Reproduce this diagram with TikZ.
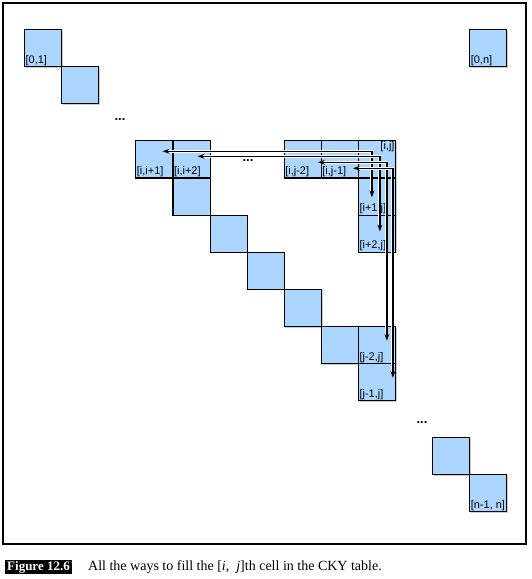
\documentclass[tikz,border=0pt]{standalone}
\usepackage{fontspec}
\setmainfont{Liberation Serif}
\setsansfont{Liberation Sans}
\usepackage{tikz}
\usetikzlibrary{arrows.meta,positioning,calc,shadows}
\definecolor{cellblue}{RGB}{170,214,255}
\tikzset{
  %% Chart cells
  cell/.style={draw=black, line width=1.1pt, fill=cellblue,
    minimum size=37.1pt, inner sep=0pt, anchor=north west,
    drop shadow={shadow xshift=1.2pt, shadow yshift=-1.2pt, opacity=0.4}},
  celltxt/.style={font=\sffamily\fontsize{11}{12}\selectfont, inner sep=1.4pt},
  bl/.style={label={[celltxt, anchor=south west]south west:{#1}}},
  tr/.style={label={[celltxt, anchor=north east]north east:{#1}}},
  %% Ellipses
  cdots/.style={font=\sffamily\bfseries\fontsize{13}{14}\selectfont, inner sep=0pt},
  %% Ways to fill [i,j]
  link/.style={<->, >={Stealth[length=7pt, width=5pt]}, line width=1.3pt,
    preaction={draw=white, line width=3pt}},
  %% Caption
  figtag/.style={fill=black, text=white, font=\bfseries\fontsize{13}{15}\selectfont,
    inner xsep=2pt, inner ysep=1.5pt},
  captxt/.style={font=\fontsize{14}{16}\selectfont, inner sep=0pt},
}
\begin{document}
\begin{tikzpicture}[x=1pt, y=-1pt]
\useasboundingbox (0,0) rectangle (532,579);
\draw[line width=1.1pt] (3,3) rectangle (526,544);

%% First diagonal and top corner
\node[cell, bl={[0,1]}] (c01) at (24,29) {};
\node[cell]             (c12) at (61.1,66.1) {};
\node[cell, bl={[0,n]}] (c0n) at (469.2,29) {};
\node[cdots] (dotsA) at (120,120) {...};

%% Row i
\node[cell, bl={[i,i+1]}] (cii1) at (135.3,140.3) {};
\node[cell, bl={[i,i+2]}] (cii2) at (172.4,140.3) {};
\node[cdots] (dotsB) at (248,161) {...};
\node[cell, bl={[i,j-2]}] (cij2) at (283.7,140.3) {};
\node[cell, bl={[i,j-1]}] (cij1) at (320.8,140.3) {};
\node[cell, tr={[i,j]}]   (cij)  at (357.9,140.3) {};

%% Column j
\node[cell, bl={[i+1,j]}] (ci1j) at (357.9,177.4) {};
\node[cell, bl={[i+2,j]}] (ci2j) at (357.9,214.5) {};

%% Diagonal between
\node[cell] (d44) at (172.4,177.4) {};
\node[cell] (d55) at (209.5,214.5) {};
\node[cell] (d66) at (246.6,251.6) {};
\node[cell] (d77) at (283.7,288.7) {};
\node[cell] (d88) at (320.8,325.8) {};
\node[cell, bl={[j-2,j]}] (cj2j) at (357.9,325.8) {};
\node[cell, bl={[j-1,j]}] (cj1j) at (357.9,362.9) {};

%% Last diagonal
\node[cdots] (dotsC) at (422,423) {...};
\node[cell]                (cn1)  at (432.1,437.1) {};
\node[cell, bl={[n-1, n]}] (cnn)  at (469.2,474.2) {};

%% Pairs of cells
\draw[link] ([shift={(-11,11)}]cii1.north east) -| ([shift={(14,20)}]ci1j.north west);
\draw[link] ([shift={(-13,16)}]cii2.north east) -| ([shift={(22,17)}]ci2j.north west);
\draw[link] ([shift={(-4,22)}]cij2.north east)  -| ([shift={(29,15)}]cj2j.north west);
\draw[link] ([shift={(-6,28)}]cij1.north east)  -| ([shift={(35,15)}]cj1j.north west);

%% Caption
\node[figtag, anchor=west] (tag) at (5,567) {Figure 12.6};
\node[captxt, anchor=west] (cap) at (88,567)
  {All the ways to fill the [\textit{i}, \ \textit{j}]th cell in the CKY table.};
\end{tikzpicture}
\end{document}
